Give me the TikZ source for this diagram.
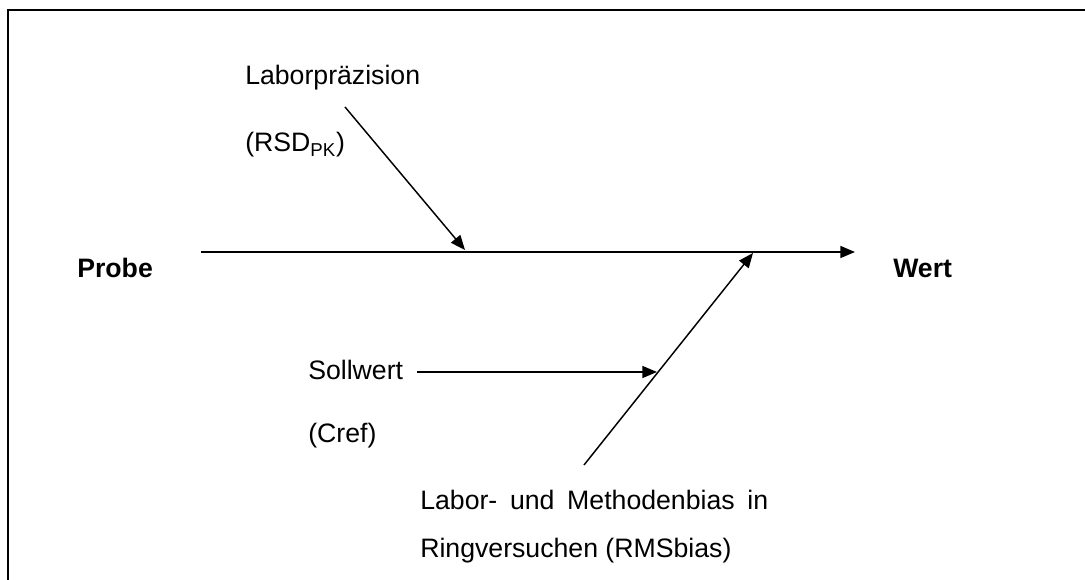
\documentclass[tikz,border=0pt]{standalone}
\usepackage{fontspec}
\setmainfont{Liberation Sans}
\usetikzlibrary{arrows.meta}

\begin{document}
\begin{tikzpicture}[x=0.75pt, y=-0.75pt,
    lbl/.style={anchor=base west, inner sep=0pt, font=\fontsize{20}{24}\selectfont},
    arr/.style={line width=1.1pt, -{Triangle[length=11pt,width=9pt]}}]
    \useasboundingbox (0,0) rectangle (1085,580);
    \draw[line width=1.5pt] (8,580) -- (8,10) -- (1085,10);
    % labels
    \node[lbl, font=\fontsize{20}{24}\selectfont\bfseries] (probe) at (77,278) {Probe};
    \node[lbl, font=\fontsize{20}{24}\selectfont\bfseries] (wert) at (893,278) {Wert};
    \node[lbl] (prec) at (245,85) {Laborpräzision};
    \node[lbl] (rsd) at (245,152) {(RSD\textsubscript{PK})};
    \node[lbl] (soll) at (308,380) {Sollwert};
    \node[lbl] (cref) at (308,443) {(Cref)};
    \node[lbl] (bias) at (420,510) {\makebox[261pt][s]{Labor- und Methodenbias in}};
    \node[lbl] (ring) at (420,557) {Ringversuchen (RMSbias)};
    % connectors
    \coordinate (axisL) at (201,252);
    \coordinate (axisR) at (855,252);
    \coordinate (precA) at (345,107);
    \coordinate (precB) at (465,250);
    \coordinate (biasA) at (584,465);
    \coordinate (biasB) at (753,253);
    \coordinate (sollA) at (417,372);
    \coordinate (sollB) at (657,372);
    \draw[arr] (axisL) -- (axisR);
    \draw[arr] (precA) -- (precB);
    \draw[arr] (biasA) -- (biasB);
    \draw[arr] (sollA) -- (sollB);
\end{tikzpicture}
\end{document}
